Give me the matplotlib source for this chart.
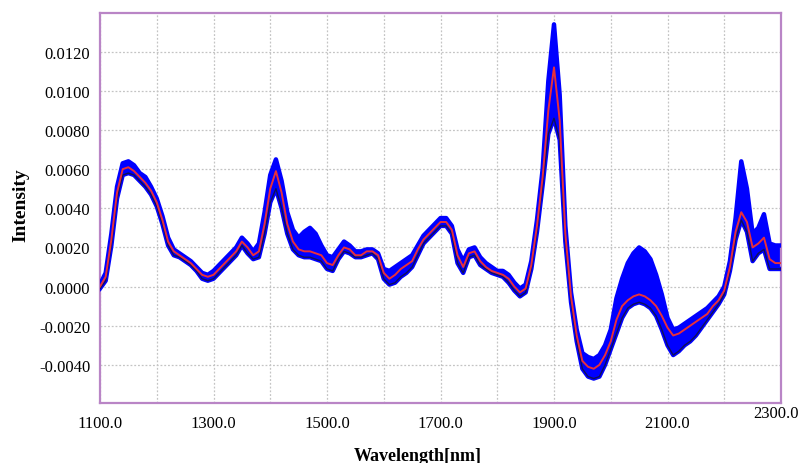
import matplotlib
matplotlib.use("Agg")
import matplotlib.pyplot as plt
import numpy as np

# wavelength grid (nm) and spectra read per 10 nm
wavelength = list(range(1100, 2301, 10))

mean_spectrum = [
    0.0000, 0.0005, 0.0024, 0.0048, 0.0060, 0.0061, 0.0059, 0.0056, 0.0053, 0.0049,
    0.0043, 0.0034, 0.0023, 0.0018, 0.0016, 0.0014, 0.0012, 0.0009, 0.0006, 0.0005,
    0.0006, 0.0009, 0.0012, 0.0015, 0.0018, 0.0023, 0.0020, 0.0016, 0.0018, 0.0032,
    0.0050, 0.0059, 0.0048, 0.0032, 0.0023, 0.0019, 0.0018, 0.0018, 0.0017, 0.0016,
    0.0012, 0.0011, 0.0016, 0.0020, 0.0019, 0.0016, 0.0016, 0.0018, 0.0018, 0.0016,
    0.0007, 0.0004, 0.0006, 0.0009, 0.0011, 0.0013, 0.0019, 0.0024, 0.0027, 0.0030,
    0.0033, 0.0033, 0.0029, 0.0016, 0.0010, 0.0017, 0.0018, 0.0013, 0.0010, 0.0008,
    0.0007, 0.0006, 0.0004, 0.0000, -0.0003, -0.0001, 0.0011, 0.0031, 0.0056, 0.0090,
    0.0112, 0.0085, 0.0027, -0.0005, -0.0025, -0.0038, -0.0041, -0.0042, -0.0040, -0.0035,
    -0.0028, -0.0017, -0.0010, -0.0007, -0.0005, -0.0004, -0.0005, -0.0007, -0.0010, -0.0015,
    -0.0021, -0.0025, -0.0024, -0.0022, -0.0020, -0.0018, -0.0016, -0.0014, -0.0010, -0.0007,
    -0.0002, 0.0010, 0.0028, 0.0038, 0.0033, 0.0020, 0.0022, 0.0025, 0.0014, 0.0012,
    0.0012,
]

upper_spectrum = [
    0.0001, 0.0007, 0.0027, 0.0051, 0.0063, 0.0064, 0.0062, 0.0058, 0.0056, 0.0051,
    0.0045, 0.0036, 0.0025, 0.0019, 0.0017, 0.0015, 0.0013, 0.0010, 0.0007, 0.0006,
    0.0008, 0.0011, 0.0014, 0.0017, 0.0020, 0.0025, 0.0022, 0.0018, 0.0022, 0.0038,
    0.0057, 0.0065, 0.0054, 0.0038, 0.0029, 0.0025, 0.0028, 0.0030, 0.0027, 0.0021,
    0.0016, 0.0015, 0.0019, 0.0023, 0.0021, 0.0018, 0.0018, 0.0019, 0.0019, 0.0017,
    0.0009, 0.0008, 0.0010, 0.0012, 0.0014, 0.0016, 0.0021, 0.0026, 0.0029, 0.0032,
    0.0035, 0.0035, 0.0031, 0.0019, 0.0013, 0.0019, 0.0020, 0.0015, 0.0012, 0.0010,
    0.0008, 0.0008, 0.0006, 0.0002, -0.0001, 0.0001, 0.0013, 0.0034, 0.0060, 0.0105,
    0.0134, 0.0098, 0.0031, -0.0003, -0.0022, -0.0034, -0.0036, -0.0037, -0.0035, -0.0030,
    -0.0022, -0.0006, 0.0004, 0.0012, 0.0017, 0.0020, 0.0018, 0.0014, 0.0006, -0.0004,
    -0.0016, -0.0022, -0.0021, -0.0019, -0.0017, -0.0015, -0.0013, -0.0011, -0.0008, -0.0005,
    0.0000, 0.0013, 0.0035, 0.0064, 0.0050, 0.0027, 0.0030, 0.0037, 0.0022, 0.0021,
    0.0021,
]

lower_spectrum = [
    -0.0001, 0.0003, 0.0021, 0.0045, 0.0057, 0.0058, 0.0057, 0.0054, 0.0051, 0.0047,
    0.0041, 0.0032, 0.0021, 0.0016, 0.0015, 0.0013, 0.0011, 0.0008, 0.0004, 0.0003,
    0.0004, 0.0007, 0.0010, 0.0013, 0.0016, 0.0021, 0.0017, 0.0014, 0.0015, 0.0027,
    0.0043, 0.0050, 0.0040, 0.0027, 0.0019, 0.0016, 0.0015, 0.0015, 0.0014, 0.0013,
    0.0009, 0.0008, 0.0014, 0.0018, 0.0017, 0.0015, 0.0015, 0.0016, 0.0017, 0.0014,
    0.0004, 0.0001, 0.0002, 0.0005, 0.0007, 0.0010, 0.0016, 0.0022, 0.0025, 0.0028,
    0.0031, 0.0031, 0.0027, 0.0012, 0.0007, 0.0015, 0.0016, 0.0011, 0.0009, 0.0007,
    0.0006, 0.0005, 0.0002, -0.0002, -0.0005, -0.0003, 0.0009, 0.0028, 0.0052, 0.0078,
    0.0086, 0.0075, 0.0023, -0.0008, -0.0028, -0.0042, -0.0046, -0.0047, -0.0046, -0.0040,
    -0.0032, -0.0024, -0.0016, -0.0011, -0.0009, -0.0008, -0.0009, -0.0011, -0.0015, -0.0022,
    -0.0030, -0.0035, -0.0033, -0.0030, -0.0028, -0.0025, -0.0021, -0.0017, -0.0013, -0.0009,
    -0.0004, 0.0008, 0.0024, 0.0034, 0.0028, 0.0013, 0.0017, 0.0019, 0.0009, 0.0009,
    0.0009,
]

x_ticks = [1100, 1300, 1500, 1700, 1900, 2100, 2300]
y_ticks = [-0.004, -0.002, 0.0, 0.002, 0.004, 0.006, 0.008, 0.010, 0.012]

frame_color = "#b985c6"
blue = "#0000ff"

plt.rcParams["font.family"] = ["Liberation Serif", "DejaVu Serif"]

fig = plt.figure(figsize=(8.01, 4.64), dpi=100)
ax = fig.add_axes([100 / 801, 1 - 404 / 464, 681 / 801, 390 / 464])

wl = np.array(wavelength)
# blue band of all sample spectra, red average on top
ax.fill_between(wl, lower_spectrum, upper_spectrum, color=blue, linewidth=0, zorder=2)
ax.plot(wl, upper_spectrum, color=blue, linewidth=3.2, zorder=3)
ax.plot(wl, lower_spectrum, color=blue, linewidth=3.2, zorder=3)
ax.plot(wl, lower_spectrum, color="#10105a", linewidth=1.0, zorder=4)
ax.plot(wl, mean_spectrum, color="#e8303a", linewidth=1.4, zorder=5)

ax.set_xlim(1100, 2300)
ax.set_ylim(-0.00595, 0.01398)

ax.set_xticks(x_ticks)
ax.set_xticks(range(1200, 2300, 200), minor=True)
labels = ["%.1f" % t for t in x_ticks]
labels[-1] = ""
ax.set_xticklabels(labels)
ax.set_yticks(y_ticks)
ax.set_yticklabels(["%.4f" % t for t in y_ticks])
ax.tick_params(axis="both", which="both", length=0, labelsize=12)
ax.tick_params(axis="x", pad=9)
ax.tick_params(axis="y", pad=7)

ax.grid(True, which="both", color="#c4c4c4", linestyle=(0, (1.5, 1.5)), linewidth=0.9)
ax.set_axisbelow(True)

for side in ["left", "bottom", "top", "right"]:
    ax.spines[side].set_color(frame_color)
    ax.spines[side].set_linewidth(1.6)

# last wavelength label sits inside the figure edge
fig.text(799 / 801, 1 - 414 / 464, "2300.0", ha="right", va="center", fontsize=12)

ax.set_xlabel("Wavelength[nm]", fontsize=13, fontweight="bold")
ax.xaxis.set_label_coords((418 - 100) / 681, -0.112)
ax.set_ylabel("Intensity", fontsize=14, fontweight="bold")
ax.yaxis.set_label_coords(-0.104, 0.509)

fig.savefig("out.png", dpi=100)
